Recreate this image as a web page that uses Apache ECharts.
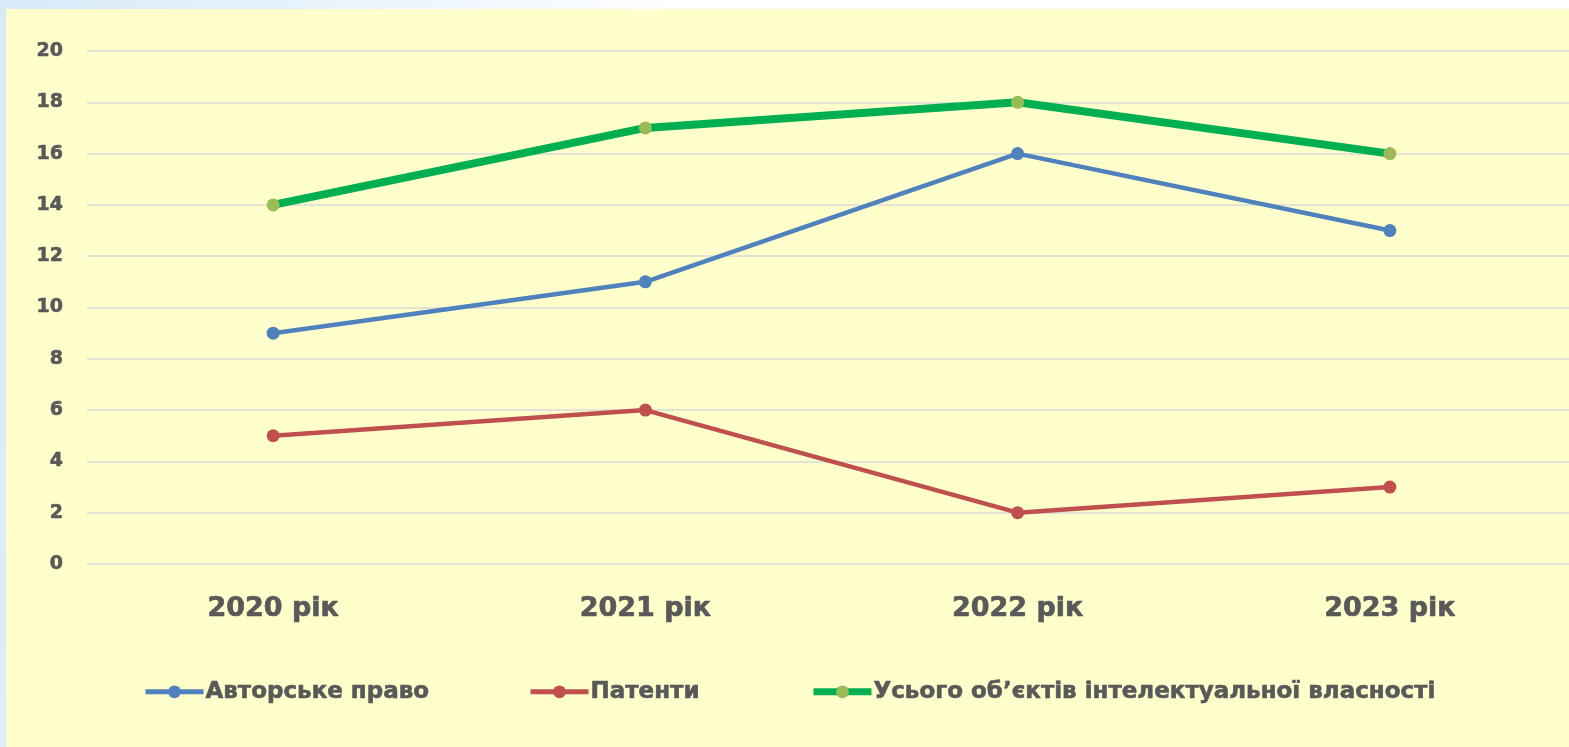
<!DOCTYPE html>
<html><head><meta charset="utf-8">
<script src="https://cdn.jsdelivr.net/npm/echarts@6/dist/echarts.min.js"></script>
<style>
html,body{margin:0;padding:0;width:1569px;height:747px;overflow:hidden;position:relative;
background:linear-gradient(100deg,#d6eaf8 0%,#eef6fd 25%,#ffffff 40%,#ffffff 100%);}
#c{position:absolute;left:6px;top:9px;width:1570px;height:738px;background:#FFFFCC;}
</style></head><body>
<div id="c"></div>
<script>
const categories = ['2020 рік','2021 рік','2022 рік','2023 рік'];
const copyright = [9, 11, 16, 13];
const patents = [5, 6, 2, 3];
const total = [14, 17, 18, 16];
const names = ['Авторське право','Патенти','Усього об’єктів інтелектуальної власності'];
const font = '"DejaVu Sans", sans-serif';
const txt = {color:'#595959', fontFamily:font, fontWeight:'bold'};
const legendLefts = [137, 522, 804];
const legendWidths = [5, 5, 7];
const chart = echarts.init(document.getElementById('c'));
chart.setOption({
  animation:false,
  grid:{left:81, right:0, top:42, bottom:183, containLabel:false},
  xAxis:{type:'category', data:categories, boundaryGap:true,
    axisLine:{show:false}, axisTick:{show:false},
    axisLabel:Object.assign({fontSize:27, margin:31, textBorderColor:'#595959', textBorderWidth:0.7}, txt)},
  yAxis:{type:'value', min:0, max:20, interval:2,
    axisLine:{show:false}, axisTick:{show:false},
    splitLine:{lineStyle:{color:'#D9D9D9', width:1.5}},
    axisLabel:Object.assign({fontSize:19, margin:24, textBorderColor:'#595959', textBorderWidth:0.6}, txt)},
  legend: names.map((n,i)=>({left:legendLefts[i], top:671, padding:0, itemWidth:58, itemHeight:16,
    lineStyle:{width:legendWidths[i]},
    textStyle:Object.assign({fontSize:23, padding:[0,0,0,-3], textBorderColor:'#595959', textBorderWidth:0.6}, txt),
    data:[n]})),
  series:[
    {name:names[0], type:'line', data:copyright, symbol:'circle', symbolSize:13,
      lineStyle:{color:'#4F81BD', width:4.5}, itemStyle:{color:'#4F81BD'}},
    {name:names[1], type:'line', data:patents, symbol:'circle', symbolSize:13,
      lineStyle:{color:'#C0504D', width:4.5}, itemStyle:{color:'#C0504D'}},
    {name:names[2], type:'line', data:total, symbol:'circle', symbolSize:13,
      lineStyle:{color:'#00B050', width:8}, itemStyle:{color:'#9BBB59'}}
  ]
});
</script></body></html>
